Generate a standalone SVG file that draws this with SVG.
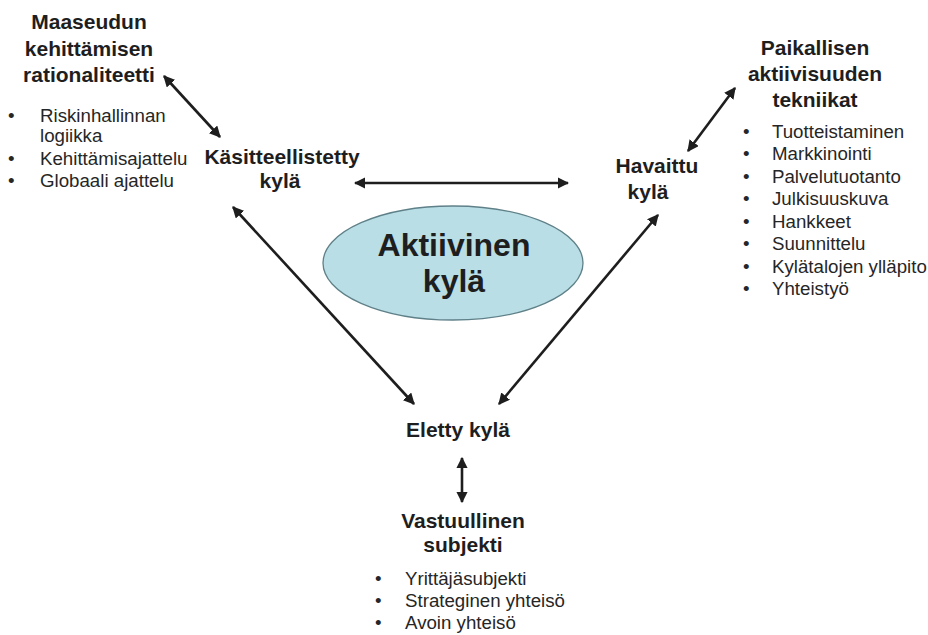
<svg xmlns="http://www.w3.org/2000/svg" width="928" height="635" viewBox="0 0 928 635">
<defs>
<style>
.t{font-family:"Liberation Sans",Arial,sans-serif;font-weight:bold;font-size:21px;fill:#1e1e1e;text-anchor:middle}
.b{font-family:"Liberation Sans",Arial,sans-serif;font-size:18.7px;fill:#262626}
.big{font-family:"Liberation Sans",Arial,sans-serif;font-weight:bold;font-size:32px;fill:#1e1e1e;text-anchor:middle}
.c{stroke:#1e1e1e;stroke-width:2.6;fill:none;marker-start:url(#ah);marker-end:url(#ah)}
</style>
<marker id="ah" viewBox="0 0 10 10" refX="9" refY="5" markerWidth="4.4" markerHeight="4.4" orient="auto-start-reverse" markerUnits="strokeWidth">
<path d="M0,0 L10,5 L0,10 Z" fill="#1e1e1e"/>
</marker>
</defs>
<rect width="928" height="635" fill="#ffffff"/>
<g id="connectors">
<line class="c" x1="164" y1="76" x2="220" y2="137"/>
<line class="c" x1="355" y1="183" x2="568" y2="183"/>
<line class="c" x1="233" y1="207" x2="414" y2="404"/>
<line class="c" x1="658" y1="215" x2="499" y2="404"/>
<line class="c" x1="688" y1="151" x2="735" y2="88"/>
<line class="c" x1="462" y1="458" x2="462" y2="502"/>
</g>
<g id="aktiivinen">
<ellipse cx="453" cy="263" rx="130" ry="57" fill="#b9dee5" stroke="#5f8088" stroke-width="1.3"/>
<text class="big" x="454" y="256">Aktiivinen</text>
<text class="big" x="454" y="292">kylä</text>
</g>
<g id="maaseudun">
<text class="t" x="89" y="29">Maaseudun</text>
<text class="t" x="89" y="56">kehittämisen</text>
<text class="t" x="89" y="82">rationaliteetti</text>
<text class="b" x="8" y="122">•</text><text class="b" x="40" y="122">Riskinhallinnan</text>
<text class="b" x="40" y="142">logiikka</text>
<text class="b" x="8" y="165">•</text><text class="b" x="40" y="165">Kehittämisajattelu</text>
<text class="b" x="8" y="187">•</text><text class="b" x="40" y="187">Globaali ajattelu</text>
</g>
<g id="kasitteellistetty">
<text class="t" x="282" y="164">Käsitteellistetty</text>
<text class="t" x="280" y="188">kylä</text>
</g>
<g id="havaittu">
<text class="t" x="657" y="173">Havaittu</text>
<text class="t" x="648" y="199">kylä</text>
</g>
<g id="paikallisen">
<text class="t" x="815" y="55">Paikallisen</text>
<text class="t" x="815" y="81">aktiivisuuden</text>
<text class="t" x="815" y="107">tekniikat</text>
<text class="b" x="743" y="138">•</text><text class="b" x="772" y="138">Tuotteistaminen</text>
<text class="b" x="743" y="160">•</text><text class="b" x="772" y="160">Markkinointi</text>
<text class="b" x="743" y="183">•</text><text class="b" x="772" y="183">Palvelutuotanto</text>
<text class="b" x="743" y="205">•</text><text class="b" x="772" y="205">Julkisuuskuva</text>
<text class="b" x="743" y="228">•</text><text class="b" x="772" y="228">Hankkeet</text>
<text class="b" x="743" y="250">•</text><text class="b" x="772" y="250">Suunnittelu</text>
<text class="b" x="743" y="273">•</text><text class="b" x="772" y="273">Kylätalojen ylläpito</text>
<text class="b" x="743" y="295">•</text><text class="b" x="772" y="295">Yhteistyö</text>
</g>
<g id="eletty">
<text class="t" x="458" y="437">Eletty kylä</text>
</g>
<g id="vastuullinen">
<text class="t" x="463" y="528">Vastuullinen</text>
<text class="t" x="463" y="552">subjekti</text>
<text class="b" x="375" y="585">•</text><text class="b" x="405" y="585">Yrittäjäsubjekti</text>
<text class="b" x="375" y="607">•</text><text class="b" x="405" y="607">Strateginen yhteisö</text>
<text class="b" x="375" y="629">•</text><text class="b" x="405" y="629">Avoin yhteisö</text>
</g>
</svg>
